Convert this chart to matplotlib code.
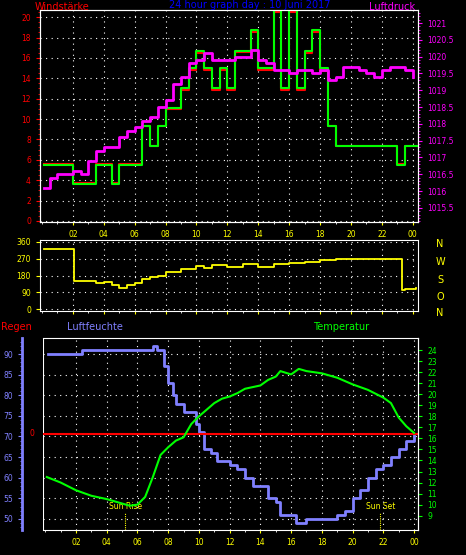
import matplotlib
matplotlib.use("Agg")
import matplotlib.pyplot as plt
from matplotlib.ticker import MultipleLocator

# wind speed (step data)
wind_t = [0.1, 2.0, 3.5, 4.5, 5.0, 6.5, 7.0, 7.5, 8.0, 9.0, 9.5, 10.0, 10.5, 11.0, 11.5, 12.0,
          12.5, 13.5, 14.0, 15.0, 15.5, 16.0, 16.5, 17.0, 17.5, 18.0, 18.5, 19.0, 23.0, 23.5, 24.3]
gust = [5.5, 3.6, 5.5, 3.6, 5.5, 9.3, 7.4, 9.3, 11.1, 13.0, 15.0, 16.7, 15.0, 13.0, 15.0, 13.0,
        16.7, 18.7, 15.0, 21.5, 13.0, 21.5, 13.0, 16.7, 18.7, 15.0, 9.3, 7.4, 5.5, 7.4, 7.4]
avg = [5.6, 3.7, 5.6, 3.7, 5.6, 9.3, 7.4, 9.3, 11.0, 12.9, 14.8, 16.5, 14.8, 12.9, 14.8, 12.9,
       16.6, 18.5, 14.8, 20.5, 12.9, 20.5, 12.9, 16.5, 18.5, 14.7, 9.3, 7.4, 5.6, 7.4, 7.4]

# pressure
press_t = [0.1, 0.5, 1, 1.5, 2, 2.5, 3, 3.5, 4, 4.5, 5, 5.5, 6, 6.5, 7, 7.5, 8, 8.5, 9, 9.5, 10,
           10.5, 11, 11.5, 12, 12.5, 13, 13.5, 14, 14.5, 15, 15.5, 16, 16.5, 17, 17.5, 18, 18.5,
           19, 19.5, 20, 20.5, 21, 21.5, 22, 22.5, 23, 23.5, 24]
press = [1016.1, 1016.4, 1016.5, 1016.5, 1016.6, 1016.5, 1016.9, 1017.2, 1017.3, 1017.3, 1017.6,
         1017.8, 1017.9, 1018.1, 1018.2, 1018.5, 1018.7, 1019.2, 1019.4, 1019.8, 1019.9, 1020.1,
         1019.9, 1019.9, 1019.9, 1020.0, 1020.0, 1020.2, 1019.9, 1019.8, 1019.6, 1019.6, 1019.5,
         1019.6, 1019.6, 1019.5, 1019.6, 1019.3, 1019.4, 1019.7, 1019.7, 1019.6, 1019.5, 1019.4,
         1019.6, 1019.7, 1019.7, 1019.6, 1019.4]

# wind direction
dir_t = [0.1, 2.0, 2.1, 3.0, 3.5, 4.0, 4.5, 5.0, 5.5, 6.0, 6.5, 7.0, 7.5, 8.0, 9.0, 10.0, 10.5,
         11.0, 12.0, 13.0, 14.0, 15.0, 16.0, 17.0, 18.0, 19.0, 20.0, 23.2, 23.3, 23.5, 24.2]
direction = [320, 320, 150, 150, 140, 145, 130, 115, 130, 140, 160, 170, 180, 200, 215, 230, 220,
             235, 225, 240, 225, 240, 245, 250, 265, 270, 270, 270, 100, 110, 115]

# humidity
hum_t = [0.2, 2.3, 2.4, 6.8, 7.0, 7.3, 7.7, 8.0, 8.3, 8.5, 9.0, 9.5, 9.8, 10.0, 10.3, 10.8, 11.2,
         12.0, 12.5, 13.0, 13.5, 14.0, 14.5, 15.0, 15.3, 16.0, 16.3, 17.0, 17.5, 18.5, 19.0, 19.5,
         20.0, 20.5, 21.0, 21.5, 22.0, 22.5, 23.0, 23.5, 24.0]
hum = [90, 90, 91, 91, 92, 91, 87, 83, 80, 78, 76, 76, 73, 71, 67, 66, 64, 63, 62, 60, 58, 58, 55,
       54, 51, 51, 49, 50, 50, 50, 51, 52, 55, 57, 60, 62, 63, 65, 67, 69, 70.5]

# temperature
temp_t = [0.1, 1, 2, 3, 4, 5, 5.5, 6, 6.5, 7, 7.5, 8, 8.5, 9, 9.5, 10, 10.5, 11, 11.5, 12, 12.5,
          13, 14, 14.5, 15, 15.3, 16, 16.5, 17, 18, 19, 20, 21, 22, 22.5, 23, 23.5, 24]
temp = [12.5, 12.0, 11.3, 10.8, 10.5, 10.1, 9.9, 10.0, 10.7, 12.5, 14.5, 15.2, 15.8, 16.1, 17.3,
        18.0, 18.6, 19.2, 19.6, 19.8, 20.1, 20.5, 20.8, 21.3, 21.6, 22.1, 21.8, 22.3, 22.1, 21.9,
        21.5, 20.9, 20.4, 19.7, 19.2, 17.9, 17.1, 16.5]

hour_ticks = list(range(2, 25, 2))
hour_labels = ["%02d" % (h % 24) for h in hour_ticks]
press_ticks = [1015.5 + 0.5 * i for i in range(12)]

W, H = 466, 555
fig = plt.figure(figsize=(W / 100, H / 100), dpi=100, facecolor="black")
FS = 5.5


def box(x0, y0, x1, y1):
    return [x0 / W, 1 - y1 / H, (x1 - x0) / W, (y1 - y0) / H]


def style(ax, color):
    ax.set_facecolor("black")
    for s in ax.spines.values():
        s.set_color("white")
    ax.tick_params(axis="y", colors=color, labelsize=FS, length=3, direction="out")
    ax.tick_params(axis="y", which="minor", colors=color, length=1.5)
    ax.tick_params(axis="x", colors="yellow", labelsize=FS, length=2)
    ax.set_xticks(hour_ticks)
    ax.set_xticklabels(hour_labels)
    ax.xaxis.set_minor_locator(MultipleLocator(1))
    ax.tick_params(axis="x", which="minor", colors="white", length=1.5)
    ax.grid(True, color="white", linestyle=(0, (1, 4)), linewidth=0.8)


# --- top panel
ax1 = fig.add_axes(box(40, 10, 418, 222))
style(ax1, "red")
ax1.set_xlim(-0.13, 24.34)
ax1.set_ylim(-0.1, 20.7)
ax1.set_yticks(range(0, 21, 2))
ax1.yaxis.set_minor_locator(MultipleLocator(0.5))
ax1.plot(wind_t, avg, drawstyle="steps-post", color="red", lw=1.5)
ax1.plot(wind_t, gust, drawstyle="steps-post", color="#00ff00", lw=1.5)
ax1b = ax1.twinx()
ax1b.set_ylim(1015.08, 1021.39)
ax1b.set_yticks(press_ticks)
ax1b.set_yticklabels(["%g" % p for p in press_ticks])
ax1b.yaxis.set_minor_locator(MultipleLocator(0.1))
ax1b.tick_params(axis="y", colors="magenta", labelsize=FS, length=3)
ax1b.tick_params(axis="y", which="minor", colors="magenta", length=1.5)
for s in ax1b.spines.values():
    s.set_color("white")
ax1b.plot(press_t, press, drawstyle="steps-post", color="magenta", lw=2)

fig.text(35 / W, 1 - 7 / H, "Windstärke", color="red", fontsize=7, va="center")
fig.text(250 / W, 1 - 5 / H, "24 hour graph day : 10 Juni 2017", color="#0000ff",
         fontsize=7, va="center", ha="center")
fig.text(415 / W, 1 - 7 / H, "Luftdruck", color="magenta", fontsize=7, va="center", ha="right")

# --- middle panel
ax2 = fig.add_axes(box(40, 240, 418, 311))
style(ax2, "yellow")
ax2.set_xlim(-0.13, 24.34)
ax2.set_ylim(-10, 370)
ax2.set_yticks([0, 90, 180, 270, 360])
ax2.tick_params(axis="x", labelbottom=False)
ax2.plot(dir_t, direction, drawstyle="steps-post", color="yellow", lw=1.3)
for lab, y in zip(["N", "W", "S", "O", "N"], [244, 262, 280, 297, 313]):
    fig.text(440 / W, 1 - y / H, lab, color="yellow", fontsize=7, ha="center", va="center")

# --- bottom panel
ax3 = fig.add_axes(box(43, 338, 418, 530))
style(ax3, "#8080ff")
ax3.set_xlim(-0.15, 24.26)
ax3.set_ylim(47.3, 93.9)
ax3.set_yticks(range(50, 91, 5))
ax3.yaxis.set_minor_locator(MultipleLocator(1))
ax3.spines["left"].set_position(("outward", 15))
ax3.spines["left"].set_color("#8080ff")
ax3.spines["left"].set_linewidth(2)
ax3.axvline(-0.15, color="white", lw=1.5)
ax3.plot(hum_t, hum, drawstyle="steps-post", color="#8080ff", lw=2)
ax3.axhline(70.6, color="red", lw=1.5)
ax3.text(-0.9, 70.6, "0", color="red", fontsize=FS, ha="center", va="center", clip_on=False)
ax3b = ax3.twinx()
ax3b.set_ylim(7.7, 25.1)
ax3b.set_yticks(range(9, 25))
ax3b.tick_params(axis="y", colors="#00ff00", labelsize=FS, length=3)
for s in ax3b.spines.values():
    s.set_visible(False)
ax3b.spines["right"].set_visible(True)
ax3b.spines["right"].set_color("white")
ax3b.plot(temp_t, temp, color="#00ff00", lw=1.5)
for h, lab in [(5.2, "Sun Rise"), (21.8, "Sun Set")]:
    ax3.plot([h, h], [47.3, 51.5], color="yellow", lw=0.8, linestyle=(0, (1, 1)))
    ax3.text(h, 53, lab, color="yellow", fontsize=FS, ha="center", va="center")

fig.text(1 / W, 1 - 327 / H, "Regen", color="red", fontsize=7, va="center")
fig.text(67 / W, 1 - 327 / H, "Luftfeuchte", color="#8080ff", fontsize=7, va="center")
fig.text(313 / W, 1 - 327 / H, "Temperatur", color="#00ff00", fontsize=7, va="center")

fig.savefig("out.png", dpi=100, facecolor="black")
